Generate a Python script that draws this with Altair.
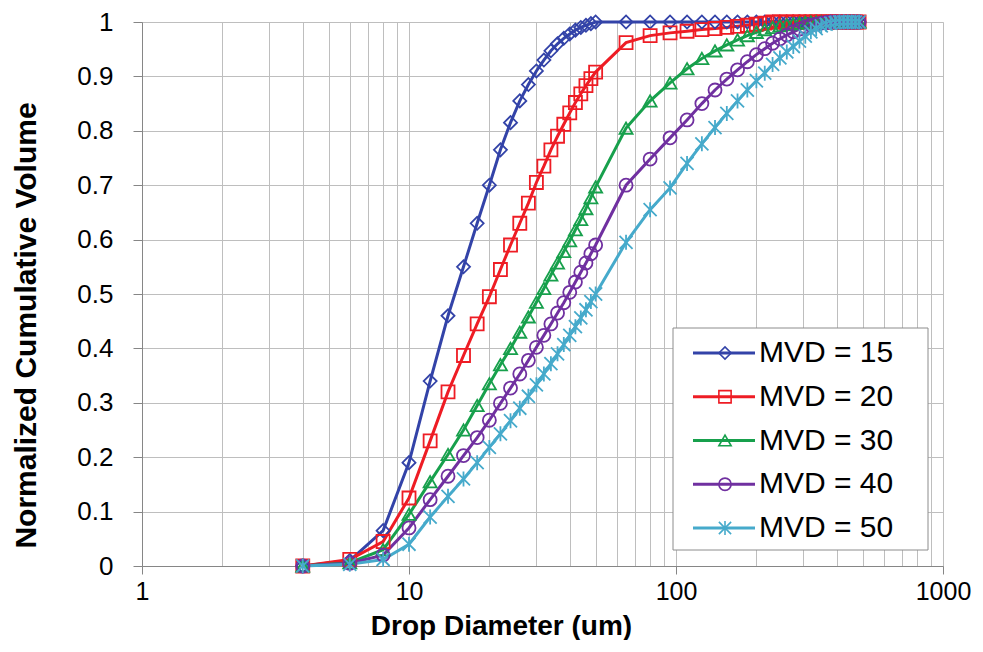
import altair as alt
import pandas as pd

# ---------------- data ----------------
diameters = [4, 6, 8, 10, 12, 14, 16, 18, 20, 22, 24, 26, 28, 30, 32, 34, 36, 38, 40, 42, 44, 46, 48, 50,
             65, 80, 95, 110, 125, 140, 155, 170, 185, 200, 215, 230, 245, 260, 275, 290, 305, 320, 335,
             350, 365, 380, 395, 410, 425, 440, 455, 470, 485]

series_names = ["MVD = 15", "MVD = 20", "MVD = 30", "MVD = 40", "MVD = 50"]

mvd15 = [0.0, 0.01, 0.065, 0.19, 0.34, 0.46, 0.55, 0.63, 0.70, 0.765, 0.815, 0.855, 0.885, 0.91, 0.93,
         0.947, 0.96, 0.97, 0.978, 0.985, 0.99, 0.994, 0.997, 1.0,
         1.0, 1.0, 1.0, 1.0, 1.0, 1.0, 1.0, 1.0, 1.0, 1.0, 1.0, 1.0, 1.0, 1.0, 1.0, 1.0, 1.0, 1.0, 1.0,
         1.0, 1.0, 1.0, 1.0, 1.0, 1.0, 1.0, 1.0, 1.0, 1.0]

mvd20 = [0.0, 0.012, 0.045, 0.125, 0.23, 0.32, 0.387, 0.445, 0.495, 0.545, 0.59, 0.63, 0.667, 0.705,
         0.735, 0.765, 0.79, 0.812, 0.833, 0.852, 0.868, 0.883, 0.896, 0.908,
         0.962, 0.975, 0.98, 0.983, 0.986, 0.988, 0.99, 0.992, 0.994, 0.996, 0.998, 1.0, 1.0, 1.0, 1.0,
         1.0, 1.0, 1.0, 1.0, 1.0, 1.0, 1.0, 1.0, 1.0, 1.0, 1.0, 1.0, 1.0, 1.0]

mvd30 = [0.0, 0.006, 0.03, 0.095, 0.155, 0.205, 0.25, 0.295, 0.335, 0.37, 0.40, 0.43, 0.458, 0.485,
         0.51, 0.535, 0.557, 0.578, 0.598, 0.618, 0.637, 0.657, 0.677, 0.697,
         0.805, 0.855, 0.888, 0.914, 0.933, 0.947, 0.958, 0.967, 0.975, 0.981, 0.986, 0.99, 0.993, 0.995,
         0.997, 0.998, 0.999, 1.0, 1.0, 1.0, 1.0, 1.0, 1.0, 1.0, 1.0, 1.0, 1.0, 1.0, 1.0]

mvd40 = [0.0, 0.005, 0.02, 0.07, 0.122, 0.165, 0.203, 0.236, 0.268, 0.299, 0.327, 0.353, 0.378, 0.402,
         0.424, 0.445, 0.465, 0.484, 0.503, 0.522, 0.54, 0.557, 0.574, 0.59,
         0.70, 0.748, 0.787, 0.82, 0.85, 0.875, 0.895, 0.912, 0.927, 0.94, 0.951, 0.961, 0.969, 0.976,
         0.982, 0.987, 0.991, 0.994, 0.996, 0.998, 0.999, 1.0, 1.0, 1.0, 1.0, 1.0, 1.0, 1.0, 1.0]

mvd50 = [0.0, 0.003, 0.012, 0.04, 0.09, 0.128, 0.16, 0.19, 0.218, 0.243, 0.267, 0.29, 0.312, 0.333,
         0.353, 0.372, 0.39, 0.407, 0.424, 0.44, 0.456, 0.471, 0.486, 0.50,
         0.595, 0.655, 0.695, 0.74, 0.776, 0.806, 0.832, 0.855, 0.875, 0.892, 0.906, 0.922, 0.934,
         0.945, 0.955, 0.965, 0.974, 0.982, 0.988, 0.993, 0.996, 0.998, 0.999, 1.0, 1.0, 1.0, 1.0, 1.0, 1.0]

series_values = [mvd15, mvd20, mvd30, mvd40, mvd50]

colors = ["#3343A8", "#EE1C24", "#17A04C", "#7030A0", "#46AACB"]
star_path = "M-1,-1L1,1M-1,1L1,-1M0,-1.15L0,1.15"
shapes = ["diamond", "square", "triangle-up", "circle", star_path]

x_tick_values = [1, 2, 3, 4, 5, 6, 7, 8, 9,
                 10, 20, 30, 40, 50, 60, 70, 80, 90,
                 100, 200, 300, 400, 500, 600, 700, 800, 900, 1000]
y_tick_values = [0, 0.1, 0.2, 0.3, 0.4, 0.5, 0.6, 0.7, 0.8, 0.9, 1.0]

x_title = "Drop Diameter (um)"
y_title = "Normalized Cumulative Volume"

# ---------------- build table ----------------
rows = []
for name, vals in zip(series_names, series_values):
    for d, v in zip(diameters, vals):
        rows.append({"d": d, "v": v, "series": name})
df = pd.DataFrame(rows)

FONT = "Liberation Sans"
GRID = "#BEBEBE"
AXIS = "#868686"
major_test = "datum.value == 1 || datum.value == 10 || datum.value == 100 || datum.value == 1000"

PLOT_W = 801
PLOT_H = 544
TOP = 14  # plot top sits at page y 22

color_scale = alt.Scale(domain=series_names, range=colors)
shape_scale = alt.Scale(domain=series_names, range=shapes)

x_enc = alt.X(
    "d:Q",
    scale=alt.Scale(type="log", domain=[1, 1000], nice=False),
    axis=alt.Axis(
        values=x_tick_values,
        format="d",
        labelExpr="(" + major_test + ") ? datum.label : ''",
        labelOverlap=False,
        labelFlush=False,
        labelFont=FONT,
        labelFontSize=25,
        labelColor="black",
        labelPadding=5,
        tickSize=8,
        tickColor=AXIS,
        tickOpacity={"condition": {"test": major_test, "value": 1}, "value": 0},
        grid=True,
        gridColor=GRID,
        gridWidth=1,
        domainColor=AXIS,
        title=x_title,
        titleFont=FONT,
        titleFontSize=28,
        titleFontWeight="bold",
        titleColor="black",
        titleX=359,
        titleY=68,
        titleAlign="center",
        titleBaseline="alphabetic",
    ),
)

y_enc = alt.Y(
    "v:Q",
    scale=alt.Scale(domain=[0, 1], nice=False),
    axis=alt.Axis(
        values=y_tick_values,
        format="~g",
        labelFont=FONT,
        labelFontSize=26,
        labelColor="black",
        labelPadding=20,
        tickSize=9,
        tickColor=AXIS,
        grid=True,
        gridColor=GRID,
        gridWidth=1,
        domainColor=AXIS,
        title=y_title,
        titleFont=FONT,
        titleFontSize=30,
        titleFontWeight="bold",
        titleColor="black",
        titlePadding=35,
        titleY=303,
        titleAlign="center",
    ),
)

lines = alt.Chart(df).mark_line(strokeWidth=3).encode(
    x=x_enc,
    y=y_enc,
    color=alt.Color("series:N", scale=color_scale, legend=None),
    detail="series:N",
)

points = alt.Chart(df).mark_point(filled=False, strokeWidth=1.8, size=170, opacity=1).encode(
    x=alt.X("d:Q", scale=alt.Scale(type="log", domain=[1, 1000], nice=False)),
    y=alt.Y("v:Q", scale=alt.Scale(domain=[0, 1], nice=False)),
    color=alt.Color("series:N", scale=color_scale, legend=None),
    shape=alt.Shape("series:N", scale=shape_scale, legend=None),
)

main = alt.layer(lines, points)

# ---------------- legend (drawn from the series names) ----------------
legend_df = pd.DataFrame({"series": series_names})
box_df = pd.DataFrame({"k": [0]})

ly = alt.Y("series:N", scale=alt.Scale(type="point", domain=series_names, range=[331, 506], padding=0),
           axis=None)

legend_box = alt.Chart(box_df).mark_rect(fill="white", stroke="#8C8C8C", strokeWidth=1).encode(
    x=alt.value(531), x2=alt.value(786), y=alt.value(306), y2=alt.value(528)
)
legend_lines = alt.Chart(legend_df).mark_rule(strokeWidth=3).encode(
    x=alt.value(551), x2=alt.value(613), y=ly,
    color=alt.Color("series:N", scale=color_scale, legend=None),
)
legend_pts = alt.Chart(legend_df).mark_point(filled=False, strokeWidth=1.6, size=150, opacity=1).encode(
    x=alt.value(583), y=ly,
    color=alt.Color("series:N", scale=color_scale, legend=None),
    shape=alt.Shape("series:N", scale=shape_scale, legend=None),
)
legend_text = alt.Chart(legend_df).mark_text(
    align="left", baseline="middle", font=FONT, fontSize=30, color="black"
).encode(x=alt.value(617), y=ly, text="series:N")

legend = alt.layer(legend_box, legend_lines, legend_pts, legend_text)

chart = alt.layer(main, legend).resolve_scale(y="independent").properties(
    width=PLOT_W,
    height=PLOT_H,
    autosize=alt.AutoSizeParams(type="none"),
    padding={"left": 134, "top": TOP, "right": 32, "bottom": 74},
).configure_view(strokeWidth=0).configure(background="white")

chart.save("out.html", embed_options={"renderer": "svg", "actions": False})
